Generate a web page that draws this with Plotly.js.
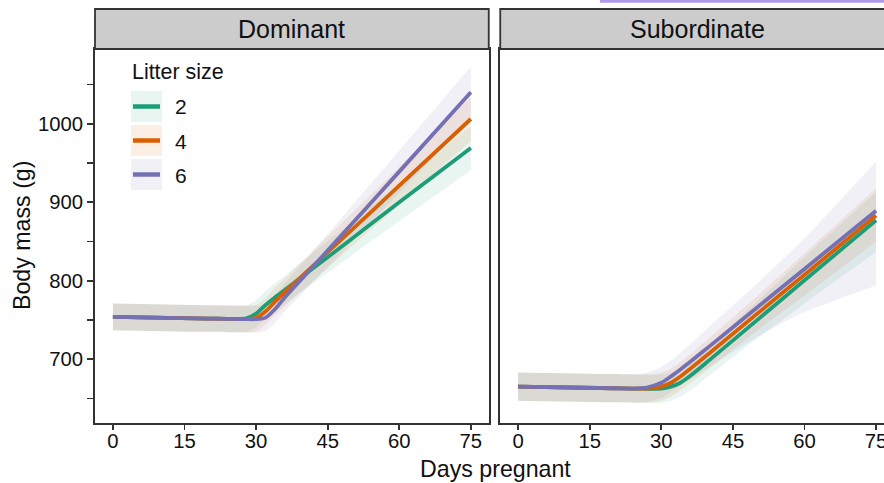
<!DOCTYPE html>
<html>
<head>
<meta charset="utf-8">
<script src="https://cdn.plot.ly/plotly-3.0.1.min.js"></script>
<style>
html, body { margin: 0; padding: 0; overflow: hidden; background: #fff; }
#chart { width: 900px; height: 483px; }
</style>
</head>
<body>
<div id="chart"></div>
<script>
// ---- Data ----
const days = [0, 20, 24, 26, 28, 30, 32, 34, 36, 40, 50, 60, 75];
const litterSizes = ['2', '4', '6'];
const panels = ['Dominant', 'Subordinate'];
const xTicks = [0, 15, 30, 45, 60, 75];
const yTicks = [650, 700, 750, 800, 850, 900, 950, 1000, 1050];
const yTickText = ['', '700', '', '800', '', '900', '', '1000', ''];

// Dominant
const domMean2 = [754, 751.8, 751.4, 751.2, 752, 758, 769, 779, 788, 807, 853, 900, 969];
const domLow2  = [737, 734.8, 734.4, 734.2, 735, 741, 751.5, 761, 770, 788, 832, 876, 941];
const domUp2   = [771, 768.8, 768.4, 768.2, 769, 775, 786.5, 797, 806, 826, 874, 924, 997];
const domMean4 = [754, 751.8, 751.4, 751.2, 751, 752.5, 761, 773.5, 785, 808, 864.5, 921, 1006];
const domLow4  = [737, 734.8, 734.4, 734.2, 734, 735.5, 744, 756, 767, 789, 843.5, 897, 978];
const domUp4   = [771, 768.8, 768.4, 768.2, 768, 769.5, 778, 791, 803, 827, 885.5, 945, 1034];
const domMean6 = [754, 751.8, 751.4, 751.2, 751, 751, 753, 764, 778.5, 805, 872, 939, 1040];
const domLow6  = [737, 734.8, 734.4, 734.2, 734, 734, 736, 746.5, 760.5, 786, 849, 912, 1007];
const domUp6   = [771, 768.8, 768.4, 768.2, 768, 768, 770, 781.5, 796.5, 824, 895, 966, 1073];

// Subordinate
const subMean2 = [665, 663, 662.6, 662.4, 662.2, 662.5, 665, 670, 678.5, 698.5, 749.5, 800.5, 877];
const subLow2  = [647, 645, 644.6, 644.4, 644.2, 644.5, 647, 652, 660, 679, 726, 771, 837];
const subUp2   = [683, 681, 680.6, 680.4, 680.2, 680.5, 683, 688, 697, 718, 773, 830, 913];
const subMean4 = [665, 663, 662.6, 662.4, 662.8, 665, 670, 678, 687.5, 707.3, 757.5, 807.7, 883];
const subLow4  = [647, 645, 644.6, 644.4, 644.8, 647, 652, 660, 669, 688, 736, 781, 850];
const subUp4   = [683, 681, 680.6, 680.4, 680.8, 683, 688, 696.5, 706, 727, 780, 835, 918];
const subMean6 = [665, 663, 662.6, 663, 665.5, 670, 678, 687, 696.5, 716, 765.5, 815, 889];
const subLow6  = [647, 645, 644.6, 645, 647, 651, 658, 666, 674, 690, 728, 760, 794];
const subUp6   = [683, 681, 680.6, 681.5, 685, 690, 698, 708, 719, 741, 796, 854, 952];

// ---- Styling ----
const lineColors = ['#1B9E77', '#D95F02', '#7570B3'];
const fillColors = ['rgba(27,158,119,0.1)', 'rgba(217,95,2,0.1)', 'rgba(117,112,179,0.1)'];
const frameColor = '#333333';
const textColor = '#111111';
const fontFam = '"Liberation Sans", Arial, sans-serif';

const W = 900, H = 483, ML = 95, MR = 6, MT = 49, MB = 60;
const PW = W - ML - MR, PH = H - MT - MB;
const fx = px => (px - ML) / PW;
const fy = py => (H - MB - py) / PH;

const seriesByPanel = [
  { mean: [domMean2, domMean4, domMean6], low: [domLow2, domLow4, domLow6], up: [domUp2, domUp4, domUp6] },
  { mean: [subMean2, subMean4, subMean6], low: [subLow2, subLow4, subLow6], up: [subUp2, subUp4, subUp6] }
];

const traces = [];
seriesByPanel.forEach((p, pi) => {
  const xa = pi === 0 ? 'x' : 'x2';
  const ya = pi === 0 ? 'y' : 'y2';
  for (let i = 0; i < 3; i++) {
    traces.push({ x: days, y: p.low[i], xaxis: xa, yaxis: ya, type: 'scatter', mode: 'lines',
      line: { width: 0, color: fillColors[i], shape: 'spline', smoothing: 0.6 }, showlegend: false, hoverinfo: 'skip' });
    traces.push({ x: days, y: p.up[i], xaxis: xa, yaxis: ya, type: 'scatter', mode: 'lines',
      fill: 'tonexty', fillcolor: fillColors[i],
      line: { width: 0, color: fillColors[i], shape: 'spline', smoothing: 0.6 }, showlegend: false, hoverinfo: 'skip' });
  }
  for (let i = 0; i < 3; i++) {
    traces.push({ x: days, y: p.mean[i], xaxis: xa, yaxis: ya, type: 'scatter', mode: 'lines',
      name: litterSizes[i],
      line: { width: 3.8, color: lineColors[i], shape: 'spline', smoothing: 0.6 }, showlegend: false });
  }
});

const gap = 11.5 / PW;
const panelW = (PW - 11.5) / 2 / PW;
const dom1 = [0, panelW];
const dom2 = [panelW + gap, 1];

const xCommon = {
  range: [-3.75, 78.75], tickvals: xTicks, ticktext: xTicks.map(String),
  ticks: 'outside', ticklen: 5, tickwidth: 1.8, tickcolor: frameColor,
  ticklabelstandoff: -6,
  showline: true, linecolor: frameColor, linewidth: 1.8, mirror: true,
  showgrid: false, zeroline: false,
  tickfont: { family: fontFam, size: 20.3, color: textColor }
};
const yCommon = {
  range: [618.7, 1095.2], tickvals: yTicks, ticktext: yTickText,
  ticks: 'outside', ticklen: 6, tickwidth: 1.8, tickcolor: frameColor,
  showline: true, linecolor: frameColor, linewidth: 1.8, mirror: true,
  showgrid: false, zeroline: false,
  tickfont: { family: fontFam, size: 20.3, color: textColor }
};

const shapes = [];
const annotations = [];
[dom1, dom2].forEach((d, i) => {
  shapes.push({ type: 'rect', xref: 'paper', yref: 'paper', x0: d[0], x1: d[1], y0: 1, y1: fy(9),
    fillcolor: '#cccccc', line: { color: frameColor, width: 1.8 }, layer: 'above' });
  annotations.push({ xref: 'paper', yref: 'paper', x: (d[0] + d[1]) / 2, y: fy(29.5),
    xanchor: 'center', yanchor: 'middle', showarrow: false, text: panels[i],
    font: { family: fontFam, size: 25, color: textColor } });
});
shapes.push({ type: 'rect', xref: 'paper', yref: 'paper', x0: fx(600), x1: fx(905), y0: fy(2.7), y1: fy(-2),
  fillcolor: '#ae98ec', line: { width: 0 } });

annotations.push({ xref: 'paper', yref: 'paper', x: fx(130), y: fy(72), xanchor: 'left', yanchor: 'middle',
  showarrow: false, text: 'Litter size', font: { family: fontFam, size: 21.4, color: textColor } });
const keyTops = [91, 125, 159];
for (let i = 0; i < 3; i++) {
  const t = keyTops[i];
  shapes.push({ type: 'rect', xref: 'paper', yref: 'paper', x0: fx(131), x1: fx(162), y0: fy(t + 31), y1: fy(t),
    fillcolor: fillColors[i], line: { width: 0 } });
  shapes.push({ type: 'line', xref: 'paper', yref: 'paper', x0: fx(133), x1: fx(160), y0: fy(t + 15.5), y1: fy(t + 15.5),
    line: { color: lineColors[i], width: 4.5 } });
  annotations.push({ xref: 'paper', yref: 'paper', x: fx(173), y: fy(t + 16), xanchor: 'left', yanchor: 'middle',
    showarrow: false, text: litterSizes[i], font: { family: fontFam, size: 21, color: textColor } });
}
annotations.push({ xref: 'paper', yref: 'paper', x: fx(495), y: fy(469), xanchor: 'center', yanchor: 'middle',
  showarrow: false, text: 'Days pregnant', font: { family: fontFam, size: 23.2, color: textColor } });
annotations.push({ xref: 'paper', yref: 'paper', x: fx(22), y: fy(236), xanchor: 'center', yanchor: 'middle',
  showarrow: false, textangle: -90, text: 'Body mass (g)', font: { family: fontFam, size: 23.2, color: textColor } });

const layout = {
  width: W, height: H,
  margin: { l: ML, r: MR, t: MT, b: MB, pad: 0 },
  paper_bgcolor: '#ffffff', plot_bgcolor: '#ffffff',
  showlegend: false,
  xaxis: Object.assign({}, xCommon, { domain: dom1, anchor: 'y' }),
  yaxis: Object.assign({}, yCommon, { anchor: 'x' }),
  xaxis2: Object.assign({}, xCommon, { domain: dom2, anchor: 'y2' }),
  yaxis2: Object.assign({}, yCommon, { anchor: 'x2', ticks: '', showticklabels: false }),
  shapes: shapes,
  annotations: annotations,
  font: { family: fontFam }
};

Plotly.newPlot('chart', traces, layout, { displayModeBar: false, staticPlot: true });
</script>
</body>
</html>
